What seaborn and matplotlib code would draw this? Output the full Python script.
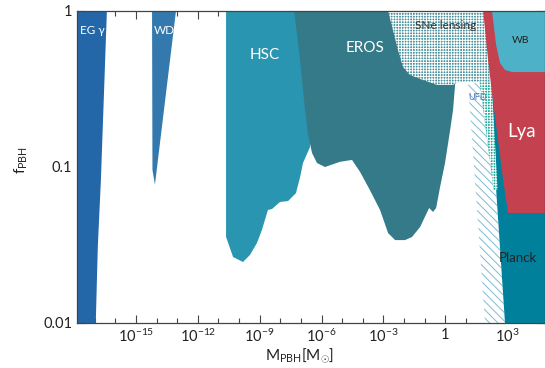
import numpy as np
import matplotlib
matplotlib.use("Agg")
import matplotlib.pyplot as plt
import seaborn as sns
from matplotlib.ticker import FixedLocator, NullFormatter

# Region boundaries: log10(M/Msun) and f_PBH
eg_logm = [-18.5, -16.41, -16.70, -16.85, -16.95, -18.5]
eg_f = [1.0, 1.0, 0.083, 0.031, 0.01, 0.01]

wd_logm = [-14.22, -13.06, -14.08, -14.20]
wd_f = [1.0, 1.0, 0.077, 0.096]

hsc_logm = [-10.63, -10.63, -10.29, -9.81, -9.47, -9.13, -8.89, -8.60, -8.40,
            -8.01, -7.62, -7.24, -7.04, -6.90, -6.56, -6.56]
hsc_f = [1.0, 0.0356, 0.0265, 0.0246, 0.0273, 0.0326, 0.0395, 0.053, 0.0538,
         0.0597, 0.0605, 0.068, 0.086, 0.106, 0.134, 1.0]

eros_logm = [-7.33, -7.04, -6.80, -6.65, -6.46, -6.22, -5.83, -5.10, -4.52,
             -4.13, -3.65, -3.16, -2.77, -2.43, -1.95, -1.61, -1.22, -0.78,
             -0.59, -0.44, -0.25, -0.01, 0.24, 0.38, 0.48, 0.48]
eros_f = [1.0, 0.485, 0.232, 0.160, 0.123, 0.106, 0.100, 0.108, 0.111,
          0.093, 0.071, 0.053, 0.0377, 0.034, 0.034, 0.0356, 0.0412, 0.0546,
          0.0515, 0.0546, 0.0744, 0.106, 0.173, 0.232, 0.336, 1.0]

sne_logm = [-2.77, -2.29, -2.05, -1.71, -1.07, -0.40, 0.38, 0.62, 2.15, 2.15]
sne_f = [1.0, 0.562, 0.438, 0.389, 0.361, 0.336, 0.336, 0.351, 0.351, 1.0]

ufd_logm = [1.11, 2.12, 2.90, 1.93]
ufd_f = [0.345, 0.345, 0.01, 0.01]

ufd2_logm = [1.67, 2.25, 2.54, 2.35]
ufd2_f = [0.351, 0.351, 0.0713, 0.0713]

planck_logm = [2.10, 5.5, 5.5, 2.90]
planck_f = [0.351, 0.351, 0.01, 0.01]

lya_logm = [1.84, 2.08, 2.27, 2.81, 3.05, 5.5, 5.5]
lya_f = [1.0, 0.485, 0.298, 0.0826, 0.0507, 0.0507, 1.0]

wb_logm = [2.27, 2.47, 2.66, 2.90, 3.24, 5.5, 5.5]
wb_f = [1.0, 0.605, 0.464, 0.419, 0.406, 0.406, 1.0]

# label name, log10 M, f, colour, size
labels = [
    ("EG γ", -17.13, 0.755, "white", 8.5),
    ("WD", -13.64, 0.755, "white", 8.5),
    ("HSC", -8.74, 0.52, "white", 11),
    ("EROS", -3.89, 0.58, "white", 11),
    ("SNe lensing", 0.0, 0.81, "#333333", 8.5),
    ("WB", 3.68, 0.65, "#222222", 7.5),
    ("Lya", 3.68, 0.17, "white", 13.5),
    ("UFD", 1.59, 0.28, "#4a78c0", 6.5),
    ("Planck", 3.53, 0.026, "#222222", 9.5),
]

xmajor = [-15, -12, -9, -6, -3, 0, 3]

sns.set_theme(style="ticks")
plt.rcParams["font.family"] = ["Lato", "DejaVu Sans"]
plt.rcParams["mathtext.fontset"] = "custom"
plt.rcParams["mathtext.rm"] = "Lato"
plt.rcParams["mathtext.it"] = "Lato:italic"
plt.rcParams["hatch.linewidth"] = 0.7

fig = plt.figure(figsize=(5.45, 3.68), dpi=100)
ax = fig.add_axes([77 / 545, 45 / 368, 468 / 545, 312 / 368])


def region(logm, f, color, **kw):
    ax.fill(10 ** np.array(logm), f, color=color, lw=0, **kw)


region(eg_logm, eg_f, "#2467a9")
region(wd_logm, wd_f, "#3479ae")
region(hsc_logm, hsc_f, "#2a95b0")
region(eros_logm, eros_f, "#357a88")
ax.fill(10 ** np.array(sne_logm), sne_f, facecolor="#4a939e", edgecolor="white",
        lw=0, hatch="++++++")
ax.fill(10 ** np.array(ufd_logm), ufd_f, facecolor="white", edgecolor="#7dbcd0",
        lw=0, hatch="\\\\\\\\")
region(planck_logm, planck_f, "#00809b")
ax.fill(10 ** np.array(ufd2_logm), ufd2_f, facecolor="#22ad9b", edgecolor="white",
        lw=0, hatch="++++++")
region(lya_logm, lya_f, "#c4414f")
region(wb_logm, wb_f, "#4db2c7")

for name, lm, f, c, s in labels:
    ax.text(10 ** lm, f, name, color=c, fontsize=s, ha="center", va="center")

ax.set_xscale("log")
ax.set_yscale("log")
ax.set_xlim(10 ** -17.86, 10 ** 4.84)
ax.set_ylim(0.01, 1)

ax.xaxis.set_major_locator(FixedLocator([10.0 ** e for e in xmajor]))
ax.set_xticklabels(["1" if e == 0 else r"$10^{%d}$" % e for e in xmajor])
ax.xaxis.set_minor_locator(FixedLocator([10.0 ** e for e in range(-18, 6)]))
ax.xaxis.set_minor_formatter(NullFormatter())
ax.yaxis.set_major_locator(FixedLocator([0.01, 0.1, 1]))
ax.set_yticklabels(["0.01", "0.1", "1"])
ax.yaxis.set_minor_locator(FixedLocator([m * d for d in (0.01, 0.1) for m in range(2, 10)]))
ax.yaxis.set_minor_formatter(NullFormatter())

ax.tick_params(which="both", direction="in", top=True, right=True,
               color="#444444", labelcolor="#222222", labelsize=10.5, width=0.8)
ax.tick_params(which="major", length=6)
ax.tick_params(which="minor", length=3.5)
for sp in ax.spines.values():
    sp.set_color("#444444")
    sp.set_linewidth(0.9)

ax.set_xlabel(r"$\mathrm{M}_{\mathrm{PBH}}[\mathrm{M}_{\odot}]$", fontsize=11, color="#222222")
ax.set_ylabel(r"$\mathrm{f}_{\mathrm{PBH}}$", fontsize=11, color="#222222")
ax.xaxis.set_label_coords(0.476, -0.075)
ax.yaxis.set_label_coords(-0.10, 0.522)

fig.savefig("out.png", dpi=100)
